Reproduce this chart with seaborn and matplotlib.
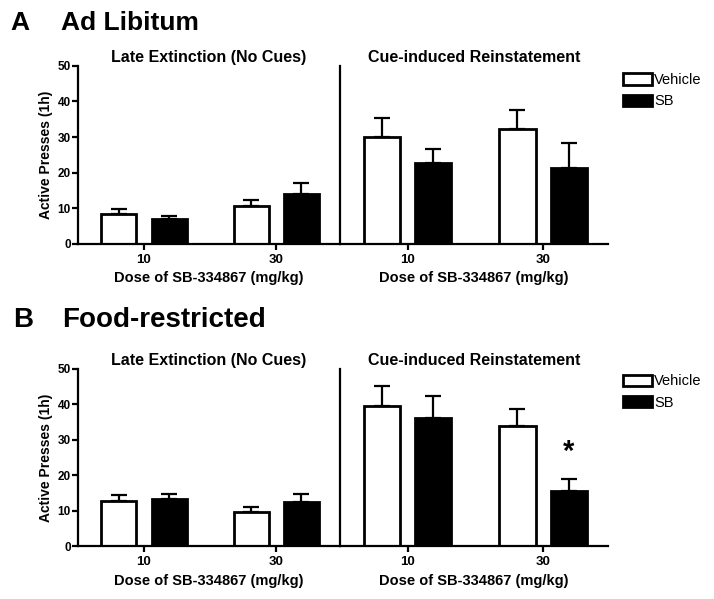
import numpy as np
import pandas as pd
import matplotlib
matplotlib.use("Agg")
import matplotlib.pyplot as plt
import seaborn as sns
from matplotlib.patches import Patch

# doses and treatment groups
doses = ["10", "30"]
groups = ["Vehicle", "SB"]

# Panel A: ad libitum (means and upper SEM)
a_ext_vehicle = [8.5, 10.5]
a_ext_vehicle_sem = [1.3, 1.7]
a_ext_sb = [7.0, 13.9]
a_ext_sb_sem = [0.7, 3.1]
a_rein_vehicle = [30.1, 32.3]
a_rein_vehicle_sem = [5.3, 5.3]
a_rein_sb = [22.6, 21.3]
a_rein_sb_sem = [4.1, 6.9]

# Panel B: food-restricted
b_ext_vehicle = [12.9, 9.8]
b_ext_vehicle_sem = [1.6, 1.2]
b_ext_sb = [13.2, 12.6]
b_ext_sb_sem = [1.6, 2.2]
b_rein_vehicle = [39.5, 34.0]
b_rein_vehicle_sem = [5.8, 4.7]
b_rein_sb = [36.2, 15.7]
b_rein_sb_sem = [6.3, 3.2]

sns.set_style("ticks")
plt.rcParams["font.family"] = ["Liberation Sans", "DejaVu Sans"]
plt.rcParams["axes.linewidth"] = 1.6
plt.rcParams["xtick.major.width"] = 1.6
plt.rcParams["ytick.major.width"] = 1.6
plt.rcParams["text.color"] = "black"
plt.rcParams["axes.labelcolor"] = "black"
plt.rcParams["xtick.color"] = "black"
plt.rcParams["ytick.color"] = "black"
plt.rcParams["axes.edgecolor"] = "black"

fig = plt.figure(figsize=(7.14, 5.99), dpi=100)

palette = {"Vehicle": "white", "SB": "black"}


def make_df(veh, sb):
    return pd.DataFrame({
        "dose": doses * 2,
        "group": ["Vehicle"] * 2 + ["SB"] * 2,
        "value": list(veh) + list(sb),
    })


def draw(ax, veh, veh_sem, sb, sb_sem, title, left):
    df = make_df(veh, sb)
    sns.barplot(data=df, x="dose", y="value", hue="group", hue_order=groups,
                order=doses, palette=palette, edgecolor="black", linewidth=2,
                width=0.76, gap=0.3, errorbar=None, legend=False, ax=ax)
    for cont, sems in zip(ax.containers, [veh_sem, sb_sem]):
        xs = [b.get_x() + b.get_width() / 2 for b in cont]
        ys = [b.get_height() for b in cont]
        ax.errorbar(xs, ys, yerr=[np.zeros(len(sems)), sems], fmt="none",
                    ecolor="black", elinewidth=1.6, capsize=6, capthick=1.6,
                    zorder=1)
    ax.set_xlim(-0.5, 1.48)
    ax.set_ylim(0, 50)
    ax.set_yticks([0, 10, 20, 30, 40, 50])
    ax.set_title(title, fontsize=11.5, fontweight="bold", pad=3)
    ax.set_xlabel("Dose of SB-334867 (mg/kg)", fontsize=10.5,
                  fontweight="bold", labelpad=4)
    ax.tick_params(axis="x", length=4, labelsize=9.5, pad=3)
    for lab in ax.get_xticklabels():
        lab.set_fontweight("bold")
    sns.despine(ax=ax)
    if left:
        ax.set_ylabel("Active Presses (1h)", fontsize=10, fontweight="bold",
                      labelpad=3)
        ax.tick_params(axis="y", length=4, labelsize=8.5, pad=1)
        for lab in ax.get_yticklabels():
            lab.set_fontweight("bold")
    else:
        ax.set_ylabel("")
        ax.tick_params(axis="y", length=0, labelleft=False)


x0, xm, x1 = 0.109, 0.476, 0.852

# panel A
axA1 = fig.add_axes([x0, 0.593, xm - x0, 0.297])
axA2 = fig.add_axes([xm, 0.593, x1 - xm, 0.297])
draw(axA1, a_ext_vehicle, a_ext_vehicle_sem, a_ext_sb, a_ext_sb_sem,
     "Late Extinction (No Cues)", True)
draw(axA2, a_rein_vehicle, a_rein_vehicle_sem, a_rein_sb, a_rein_sb_sem,
     "Cue-induced Reinstatement", False)

# panel B
axB1 = fig.add_axes([x0, 0.088, xm - x0, 0.296])
axB2 = fig.add_axes([xm, 0.088, x1 - xm, 0.296])
draw(axB1, b_ext_vehicle, b_ext_vehicle_sem, b_ext_sb, b_ext_sb_sem,
     "Late Extinction (No Cues)", True)
draw(axB2, b_rein_vehicle, b_rein_vehicle_sem, b_rein_sb, b_rein_sb_sem,
     "Cue-induced Reinstatement", False)

# significance star over SB 30 mg/kg, food-restricted
sb_bar = axB2.containers[1][1]
axB2.text(sb_bar.get_x() + sb_bar.get_width() / 2, 26.5, "*", ha="center",
          va="center", fontsize=21, fontweight="bold")

# panel headings
fig.text(0.014, 0.950, "A", fontsize=19, fontweight="bold", va="baseline")
fig.text(0.085, 0.950, "Ad Libitum", fontsize=19, fontweight="bold",
         va="baseline")
fig.text(0.018, 0.454, "B", fontsize=20, fontweight="bold", va="baseline")
fig.text(0.087, 0.454, "Food-restricted", fontsize=20, fontweight="bold",
         va="baseline")

# legends
handles = [Patch(facecolor="white", edgecolor="black", linewidth=2),
           Patch(facecolor="black", edgecolor="black", linewidth=2)]
for y in [0.878, 0.375]:
    fig.legend(handles, groups, loc="upper left", bbox_to_anchor=(0.873, y),
               frameon=False, fontsize=10.5, handlelength=2.0,
               handleheight=0.85, handletextpad=0.1, labelspacing=0.5,
               borderpad=0, borderaxespad=0)

fig.savefig("out.png", dpi=100)
